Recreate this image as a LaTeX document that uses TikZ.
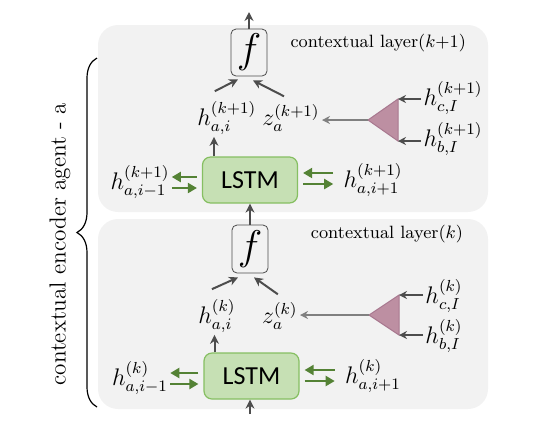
\documentclass[tikz,border=0pt]{standalone}
\usepackage{fontspec}
\setsansfont{Carlito}
\usetikzlibrary{arrows.meta,calc,decorations.pathreplacing}

\definecolor{panelgray}{HTML}{F2F2F2}
\definecolor{lstmfill}{HTML}{C6E0B4}
\definecolor{lstmline}{HTML}{86BF62}
\definecolor{arrgreen}{HTML}{548235}
\definecolor{arrgray}{HTML}{4D4D4D}
\definecolor{trifill}{HTML}{BD8FA2}
\definecolor{triline}{HTML}{A8788F}

\tikzset{
  panel/.style={fill=panelgray, rounded corners=10pt, minimum width=195pt, inner sep=0pt},
  fbox/.style={draw=arrgray, rounded corners=2.5pt, minimum width=18pt, minimum height=23.5pt, inner sep=0pt, font=\fontsize{22}{24}\selectfont},
  lstm/.style={draw=lstmline, fill=lstmfill, rounded corners=4pt, line width=0.6pt, minimum width=47.5pt, minimum height=23pt, font=\sffamily\fontsize{13}{15}\selectfont},
  lbl/.style={inner sep=1pt, font=\large},
  arr/.style={draw=arrgray, line width=1pt, -{Stealth[length=4.5pt,width=4.5pt]}},
  thinarr/.style={draw=arrgray, line width=0.6pt, -{Stealth[length=4pt,width=4pt]}},
  garr/.style={draw=arrgreen, line width=1pt, -{Triangle[length=4.5pt,width=5pt]}},
  tri/.style={fill=trifill, draw=triline, line width=0.5pt}
}

\begin{document}
\begin{tikzpicture}[x=0.5pt, y=-0.5pt]
    \useasboundingbox (0,0) rectangle (556,425);

    % layer k+1
    \node (panel2) [panel, minimum height=93.5pt] at (293,118.5) {};
    \node (layer2) [anchor=east, font=\fontsize{8.9}{10}\selectfont] at (473,43) {contextual layer($k$+1)};
    \node (f2) [fbox] at (249,52.5) {$f$};
    \node (lstm2) [lstm] at (250,180) {LSTM};
    \node (h2) [lbl, anchor=west] at (195,118) {$h_{a,i}^{(k+1)}$};
    \node (z2) [lbl, anchor=east] at (322,118) {$z_a^{(k+1)}$};
    \node (hc2) [lbl] at (453,98) {$h_{c,I}^{(k+1)}$};
    \node (hb2) [lbl] at (453,139) {$h_{b,I}^{(k+1)}$};
    \node (hl2) [lbl] at (140,182) {$h_{a,i-1}^{(k+1)}$};
    \node (hr2) [lbl] at (373,180) {$h_{a,i+1}^{(k+1)}$};
    \draw[tri] (368,120) coordinate (ta2) -- (398,99) coordinate (tt2) -- (398,141) coordinate (tb2) -- cycle;
    \coordinate (out2) at (249,12);

    \draw[arr] (f2.north) -- (out2);
    \draw[arr] ([shift={(-6pt,4pt)}]h2.north) -- ([shift={(-5.5pt,-1.5pt)}]f2.south);
    \draw[arr] ([shift={(-3.5pt,3pt)}]z2.north) -- ([shift={(2pt,-2pt)}]f2.south);
    \draw[arr] ([xshift=-18pt]lstm2.north) -- ([xshift=-18pt]lstm2.north |- h2.south);
    \draw[thinarr, draw=gray] (ta2) -- (ta2 -| z2.east);
    \draw[thinarr] (hc2.west |- tt2) -- (tt2);
    \draw[thinarr] (hb2.west |- tb2) -- (tb2);
    \draw[garr] ($(lstm2.west)+(-5,-3)$) -- ($(lstm2.west -| hl2.east)+(0,-3)$);
    \draw[garr] ($(lstm2.west -| hl2.east)+(0,8)$) -- ($(lstm2.west)+(-5,8)$);
    \draw[garr] ($(lstm2.east -| hr2.west)+(-8,-7)$) -- ($(lstm2.east)+(5,-7)$);
    \draw[garr] ($(lstm2.east)+(5,4)$) -- ($(lstm2.east -| hr2.west)+(-8,4)$);

    % layer k
    \node (panel1) [panel, minimum height=95pt] at (293,314) {};
    \node (layer1) [anchor=east, font=\fontsize{8.9}{10}\selectfont] at (470,234) {contextual layer($k$)};
    \node (f1) [fbox, minimum height=24pt] at (250,249) {$f$};
    \node (lstm1) [lstm] at (251.5,376) {LSTM};
    \node (h1) [lbl, anchor=west] at (196,316) {$h_{a,i}^{(k)}$};
    \node (z1) [lbl, anchor=east] at (300,316) {$z_a^{(k)}$};
    \node (hc1) [lbl] at (444,296) {$h_{c,I}^{(k)}$};
    \node (hb1) [lbl] at (444,336) {$h_{b,I}^{(k)}$};
    \node (hl1) [lbl] at (140,378) {$h_{a,i-1}^{(k)}$};
    \node (hr1) [lbl] at (373,376) {$h_{a,i+1}^{(k)}$};
    \draw[tri] (369,315) coordinate (ta1) -- (399,295) coordinate (tt1) -- (399,335) coordinate (tb1) -- cycle;
    \coordinate (in1) at (250,414);

    \draw[arr] (f1.north) -- (lstm2.south);
    \draw[arr] (in1) -- (in1 |- lstm1.south);
    \draw[arr] ([shift={(-2.5pt,4pt)}]h1.north) -- ([shift={(-6pt,-2pt)}]f1.south);
    \draw[arr] ([shift={(-1pt,3pt)}]z1.north) -- ([shift={(2pt,-2pt)}]f1.south);
    \draw[arr] ([xshift=-18.5pt]lstm1.north) -- ([xshift=-18.5pt]lstm1.north |- h1.south);
    \draw[thinarr, draw=gray] (ta1) -- (ta1 -| z1.east);
    \draw[thinarr] (hc1.west |- tt1) -- (tt1);
    \draw[thinarr] (hb1.west |- tb1) -- (tb1);
    \draw[garr] ($(lstm1.west)+(-5,-3)$) -- ($(lstm1.west -| hl1.east)+(0,-3)$);
    \draw[garr] ($(lstm1.west -| hl1.east)+(0,8)$) -- ($(lstm1.west)+(-5,8)$);
    \draw[garr] ($(lstm1.east -| hr1.west)+(-8,-6)$) -- ($(lstm1.east)+(5,-6)$);
    \draw[garr] ($(lstm1.east)+(5,5)$) -- ($(lstm1.east -| hr1.west)+(-8,5)$);

    % agent brace
    \coordinate (bracelow) at (97,407);
    \coordinate (bracehigh) at (97,58);
    \draw[line width=0.6pt, decorate, decoration={brace, amplitude=10pt}] (bracelow) -- (bracehigh);
    \node (agent) [rotate=90, font=\fontsize{11.6}{14}\selectfont] at (60,244) {contextual encoder agent - a};
\end{tikzpicture}
\end{document}
